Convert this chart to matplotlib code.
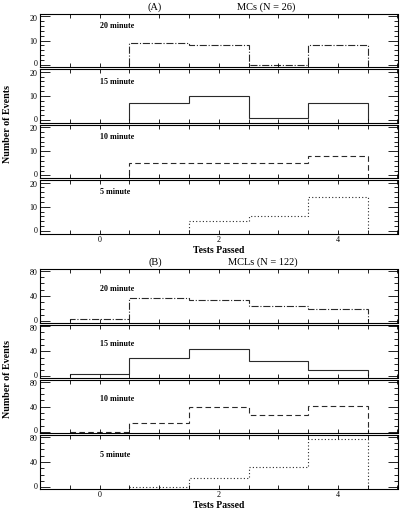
import matplotlib
matplotlib.use("Agg")
import matplotlib.pyplot as plt
from matplotlib.ticker import MultipleLocator
from matplotlib.transforms import ScaledTranslation
import numpy as np

plt.rcParams['font.family'] = ['Liberation Serif', 'DejaVu Serif']

# tests passed histograms, bins centred on integers
minutes = ['20 minute', '15 minute', '10 minute', '5 minute']

mc_start = [1, 1, 1, 2]
mc_counts = [
    [9, 8, 0, 8],
    [7, 10, 1, 7],
    [5, 5, 5, 8],
    [4, 6, 14],
]

mcl_start = [0, 0, 0, 1]
mcl_counts = [
    [3, 36, 34, 24, 19],
    [4, 29, 43, 24, 10],
    [0, 14, 39, 26, 41],
    [1, 15, 32, 77],
]

styles = ['-.', '-', (0, (5, 3)), (0, (1, 2))]

W, H = 401, 515
fig = plt.figure(figsize=(W / 100, H / 100), dpi=100)

x0, x1 = 40, 397.5


def panel_group(top, bottom, starts, counts, ylim, ymaj, ymin, title_l, title_r, lab_y):
    gap = 2.0
    h = (bottom - top - 3 * gap) / 4
    axes = []
    for i in range(4):
        t = top + i * (h + gap)
        ax = fig.add_axes([x0 / W, 1 - (t + h) / H, (x1 - x0) / W, h / H])
        vals = np.array(counts[i], dtype=float)
        edges = np.arange(starts[i] - 0.5, starts[i] + len(vals), 1.0)
        ax.stairs(vals, edges, baseline=0, color='#2a2a2a', lw=0.8, ls=styles[i])
        ax.set_xlim(-1, 5)
        ax.set_ylim(*ylim)
        ax.xaxis.set_major_locator(MultipleLocator(2))
        ax.xaxis.set_minor_locator(MultipleLocator(0.5))
        ax.set_yticks(np.arange(0, ylim[1], ymaj))
        ax.yaxis.set_minor_locator(MultipleLocator(ymin))
        ax.tick_params(which='both', direction='in', top=True, right=True,
                       labelsize=5.8, pad=2, width=0.6)
        ax.tick_params(axis='y', which='major', length=7)
        ax.tick_params(axis='y', which='minor', length=3)
        ax.tick_params(axis='x', which='both', length=3)
        if i < 3:
            ax.tick_params(labelbottom=False)
        # keep the end labels of stacked panels apart
        yt = ax.yaxis.get_major_ticks()
        for tk, dy in ((yt[0], 1.3), (yt[-1], -1.3)):
            tk.label1.set_transform(tk.label1.get_transform()
                                    + ScaledTranslation(0, dy / 100, fig.dpi_scale_trans))
        for s in ax.spines.values():
            s.set_linewidth(0.8)
        ax.text(0.0, ylim[0] + lab_y * (ylim[1] - ylim[0]), minutes[i],
                fontsize=5.8, fontweight='bold', va='center', ha='left')
        axes.append(ax)
    axes[-1].set_xlabel('Tests Passed', fontsize=7, fontweight='bold', labelpad=1)
    fig.text(155 / W, 1 - (top - 7) / H, title_l, fontsize=7.5, ha='center', va='center')
    fig.text(title_r[1] / W, 1 - (top - 7) / H, title_r[0], fontsize=7.5, ha='center', va='center')
    fig.text(8 / W, 1 - (top + bottom) / 2 / H, 'Number of Events', rotation=90,
             fontsize=7.2, fontweight='bold', ha='center', va='center')


panel_group(14, 233.5, mc_start, mc_counts, (-1.1, 21), 10, 2,
            '(A)', ('MCs (N = 26)', 266), 0.77)
panel_group(269.3, 488.7, mcl_start, mcl_counts, (-2.5, 82.5), 40, 10,
            '(B)', ('MCLs (N = 122)', 263), 0.64)

fig.savefig('out.png', dpi=100)
